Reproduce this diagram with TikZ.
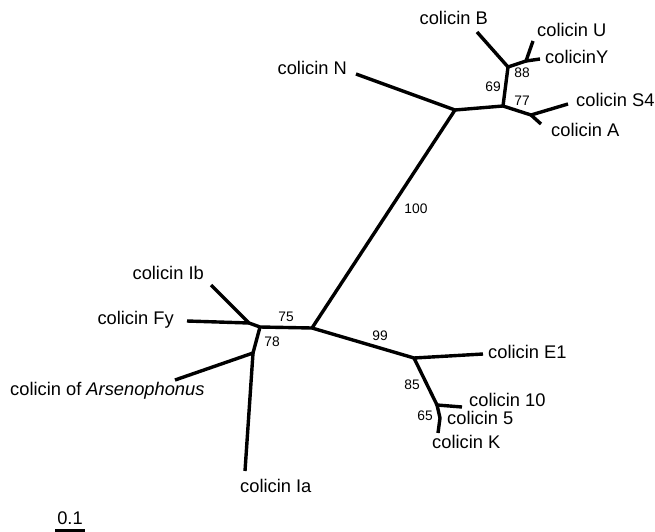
\documentclass[tikz,border=0pt]{standalone}
\usepackage{fontspec}
\setmainfont{Liberation Sans}
\tikzset{
  branch/.style={line width=3.4pt, line join=round},
  taxon/.style={font=\fontsize{18.3}{22}\selectfont, inner sep=0pt},
  boot/.style={font=\fontsize{13.8}{16}\selectfont, inner sep=0pt}
}
\begin{document}
\begin{tikzpicture}[x=1pt, y=-1pt]
\useasboundingbox (0,0) rectangle (655,532);
\coordinate (jN) at (455,110);
\coordinate (jC) at (312,328);
\coordinate (jL) at (260,327);
\coordinate (jIbFy) at (249,323);
\coordinate (jArs) at (253,353);
\coordinate (jTop) at (503,106);
\coordinate (jB) at (508,67);
\coordinate (jUY) at (526,61);
\coordinate (jSA) at (531,115);
\coordinate (jE1) at (414,358);
\coordinate (j10) at (437,405);
\coordinate (j5) at (440,418);
\coordinate (tN) at (356,74);
\coordinate (tB) at (477,32);
\coordinate (tU) at (533,41);
\coordinate (tY) at (540,59);
\coordinate (tS4) at (568,104);
\coordinate (tA) at (541,124);
\coordinate (tIb) at (211,285);
\coordinate (tFy) at (187,321);
\coordinate (tArs) at (175,380);
\coordinate (tIa) at (245,471);
\coordinate (tE1) at (483,354);
\coordinate (t10) at (462,407);
\coordinate (t5) at (441,418);
\coordinate (tK) at (438,433);

\draw[branch] (tN) -- (jN) -- (jC);
\draw[branch] (jN) -- (jTop) -- (jB) -- (tB);
\draw[branch] (jB) -- (jUY) -- (tU);
\draw[branch] (jUY) -- (tY);
\draw[branch] (jTop) -- (jSA) -- (tS4);
\draw[branch] (jSA) -- (tA);
\draw[branch] (jC) -- (jL) -- (jIbFy) -- (tIb);
\draw[branch] (jIbFy) -- (tFy);
\draw[branch] (jL) -- (jArs) -- (tArs);
\draw[branch] (jArs) -- (tIa);
\draw[branch] (jC) -- (jE1) -- (tE1);
\draw[branch] (jE1) -- (j10) -- (t10);
\draw[branch] (j10) -- (j5) -- (tK);

\node[taxon, anchor=east] (lN) at (347,68) {colicin N};
\node[taxon, anchor=east] (lB) at (488,18) {colicin B};
\node[taxon, anchor=west] (lU) at (537,30) {colicin U};
\node[taxon, anchor=west] (lY) at (545,57) {colicinY};
\node[taxon, anchor=west] (lS4) at (576,100) {colicin S4};
\node[taxon, anchor=west] (lA) at (551,130) {colicin A};
\node[taxon, anchor=east] (lIb) at (204,273) {colicin Ib};
\node[taxon, anchor=east] (lFy) at (174,320) {colicin Fy};
\node[taxon, anchor=west] (lArs) at (10,391) {colicin of \textit{Arsenophonus}};
\node[taxon, anchor=west] (lIa) at (240,486) {colicin Ia};
\node[taxon, anchor=west] (lE1) at (488,352) {colicin E1};
\node[taxon, anchor=west] (l10) at (469,400) {colicin 10};
\node[taxon, anchor=west] (l5) at (447,418) {colicin 5};
\node[taxon, anchor=west] (lK) at (432,442) {colicin K};

\node[boot] (b100) at (416,209) {100};
\node[boot] (b75) at (286,317) {75};
\node[boot] (b78) at (272,342) {78};
\node[boot] (b99) at (380,336) {99};
\node[boot] (b85) at (412,385) {85};
\node[boot] (b65) at (425,416) {65};
\node[boot] (b69) at (493,87) {69};
\node[boot] (b88) at (522,73) {88};
\node[boot] (b77) at (522,101) {77};

\node[taxon] (scale) at (70,518) {0.1};
\coordinate (s1) at (55,531);
\coordinate (s2) at (85,531);
\draw[branch] (s1) -- (s2);
\end{tikzpicture}
\end{document}
